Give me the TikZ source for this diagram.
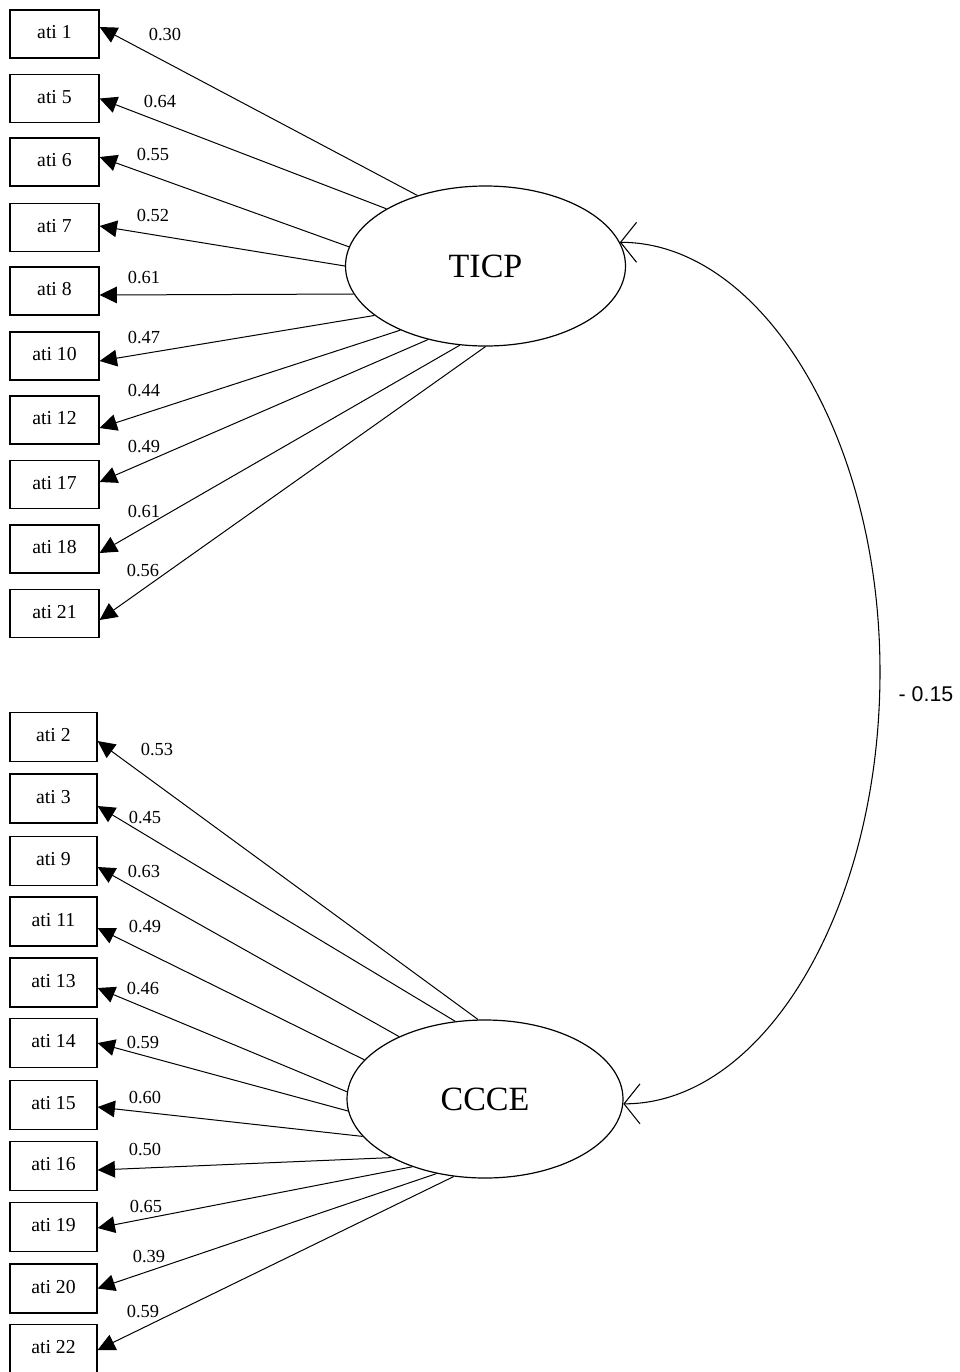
\documentclass[tikz,border=0pt]{standalone}
\usepackage{fontspec}
\setmainfont{Liberation Serif}
\newfontfamily\corrfont{Liberation Sans}
\usetikzlibrary{arrows.meta,shapes.geometric,calc}
\begin{document}
\begin{tikzpicture}[x=0.75pt,y=-0.75pt,
  obs/.style={draw,line width=0.9pt,minimum width=66.75pt,minimum height=36pt,inner sep=0pt,
    text depth=3pt,font=\fontsize{14.8}{16}\selectfont},
  obsb/.style={obs,minimum width=65.25pt,minimum height=36.75pt},
  latent/.style={draw,ellipse,line width=0.9pt,minimum width=210pt,minimum height=120pt,inner sep=0pt,
    font=\fontsize{25.5}{28}\selectfont},
  load/.style={line width=0.75pt,-{Triangle[length=13pt,width=12.5pt]}},
  coef/.style={inner sep=0pt,font=\fontsize{13.8}{15}\selectfont},
  corr/.style={line width=0.8pt,
    {Straight Barb[length=12pt,width=30pt,line width=0.8pt]}-{Straight Barb[length=12pt,width=30pt,line width=0.8pt]}}
]
\useasboundingbox (0,0) rectangle (960,1372);

% latent factors
\node[latent] (T) at (485.5,266) {TICP};
\node[latent,minimum width=207pt,minimum height=118.5pt] (C) at (485,1099) {CCCE};

% TICP indicators: name / label / centre y / start angle / tip offset / coefficient position / value
\foreach \n/\t/\y/\a/\d/\lx/\ly/\v in {
  a1/ati 1/34/134/-7/165/35/0.30,
  a5/ati 5/98.5/150.5/0/160/102/0.64,
  a6/ati 6/162/172.6/-5/153/155/0.55,
  a7/ati 7/227.5/180.8/-1.5/153/216/0.52,
  a8/ati 8/291/192/4/144/278/0.61,
  a10/ati 10/356/204/5/144/338/0.47,
  a12/ati 12/420/217/8/144/391/0.44,
  a17/ati 17/484.5/232/-2.5/144/447/0.49,
  a18/ati 18/549/252/4/144/512/0.61,
  a21/ati 21/613.5/270/6.5/143/571/0.56}{
  \node[obs] (\n) at (54.5,\y) {\t};
  \draw[load] (T.\a) -- ($(\n.east)+(0,\d)$);
  \node[coef] (l\n) at (\lx,\ly) {\v};
}

% CCCE indicators
\foreach \n/\t/\y/\a/\d/\lx/\ly/\v in {
  b2/ati 2/737/95/4/157/749/0.53,
  b3/ati 3/798.5/111/7.5/145/817/0.45,
  b9/ati 9/861/144.5/6/144/871/0.63,
  b11/ati 11/921.5/162/6.5/145/926/0.49,
  b13/ati 13/982.5/177/5.5/143/988/0.46,
  b14/ati 14/1043/185.5/0/143/1042/0.59,
  b15/ati 15/1105/197/2/145/1097/0.60,
  b16/ati 16/1166/212.7/4/145/1149/0.50,
  b19/ati 19/1227/223.8/1/146/1206/0.65,
  b20/ati 20/1288.5/237.7/0/149/1256/0.39,
  b22/ati 22/1349/248/1/143/1311/0.59}{
  \node[obsb] (\n) at (53.5,\y) {\t};
  \draw[load] (C.\a) -- ($(\n.east)+(0,\d)$);
  \node[coef] (l\n) at (\lx,\ly) {\v};
}

% factor covariance
\coordinate (bend) at (880,672);
\draw[corr] (C.358) .. controls +(140,0) and +(0,238) .. (bend)
  .. controls +(0,-238) and +(140,0) .. (T.10);
\node[font=\corrfont\fontsize{16}{18}\selectfont] (r) at (926,694) {- 0.15};
\end{tikzpicture}
\end{document}
